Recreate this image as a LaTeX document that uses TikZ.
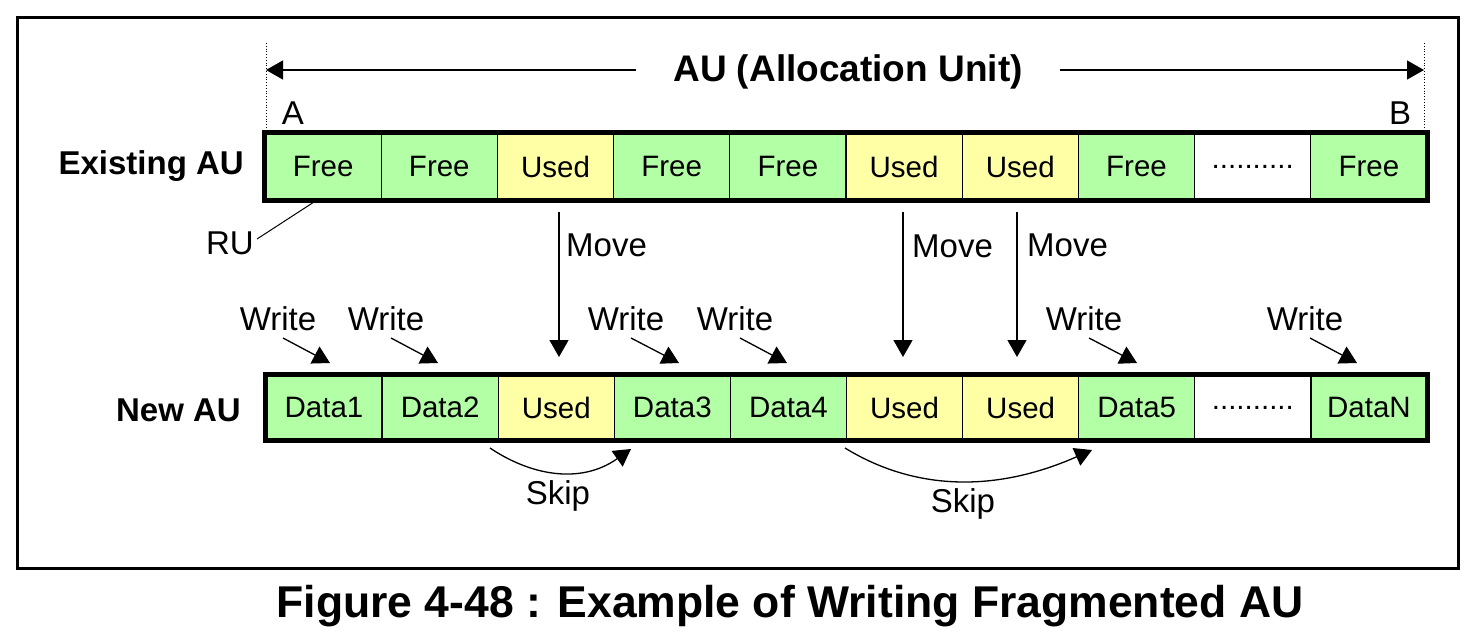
\documentclass[tikz,border=0pt]{standalone}
\usepackage{fontspec}
\setmainfont{Liberation Sans}
\usetikzlibrary{arrows.meta}
\definecolor{freegreen}{RGB}{178,255,166}
\definecolor{usedyellow}{RGB}{255,255,166}
\tikzset{
  cell/.style={draw=black, line width=1.3pt, minimum height=#1, inner sep=0pt,
    font=\fontsize{29.5}{34}\selectfont, anchor=center},
  cellA/.style={cell=67pt, minimum width=116.2pt},
  cellB/.style={cell=65pt, minimum width=116.1pt},
  gcell/.style={fill=freegreen},
  ycell/.style={fill=usedyellow},
  wcell/.style={fill=white},
  lbl/.style={font=\fontsize{33}{38}\selectfont, inner sep=0pt},
  rowlbl/.style={font=\bfseries\fontsize{33}{38}\selectfont, inner sep=0pt},
  tip/.style={-{Triangle[length=17pt,width=19pt]}, line width=1.3pt},
  thick row/.style={draw=black, line width=4.5pt},
}
\begin{document}
\begin{tikzpicture}[x=1pt,y=-1pt]
\useasboundingbox (0,0) rectangle (1473,637);
% frame
\node[draw=black, line width=2.5pt, minimum width=1441pt, minimum height=551pt, inner sep=0pt, anchor=north west] (frame) at (16,16) {};
% dimension line
\coordinate (A0) at (266,43);
\coordinate (A1) at (266,133);
\coordinate (B0) at (1424,43);
\coordinate (B1) at (1424,133);
\draw[dotted, line width=0.8pt] (A0) -- (A1);
\draw[dotted, line width=0.8pt] (B0) -- (B1);
\node[font=\bfseries\fontsize{37}{42}\selectfont, inner xsep=37pt, inner ysep=0pt] (au) at (848,72) {AU (Allocation Unit)};
\coordinate (dl) at (266,70);
\coordinate (dr) at (1424,70);
\draw[tip] (au.west |- dl) -- (dl);
\draw[tip] (au.east |- dr) -- (dr);
\node[lbl] (la) at (293,113) {A};
\node[lbl] (lb) at (1400,113) {B};
% existing AU row
\foreach \i/\t/\s in {1/Free/gcell,2/Free/gcell,3/Used/ycell,4/Free/gcell,5/Free/gcell,6/Used/ycell,7/Used/ycell,8/Free/gcell,9/{..........}/wcell,10/Free/gcell}{
  \node[cellA, \s] (e\i) at ({265+116.2*(\i-0.5)},166.5) {\t};
}
\draw[thick row] (e1.north west) rectangle (e10.south east);
% new AU row
\foreach \i/\t/\s in {1/Data1/gcell,2/Data2/gcell,3/Used/ycell,4/Data3/gcell,5/Data4/gcell,6/Used/ycell,7/Used/ycell,8/Data5/gcell,9/{..........}/wcell,10/DataN/gcell}{
  \node[cellB, \s] (n\i) at ({266+116.1*(\i-0.5)},407.5) {\t};
}
\draw[thick row] (n1.north west) rectangle (n10.south east);
% row labels
\node[rowlbl, anchor=east] (lex) at (244,166) {Existing AU};
\node[rowlbl, anchor=east] (lnew) at (241,410) {New AU};
% RU
\node[lbl] (ru) at (230,243) {RU};
\coordinate (ruend) at (314,202);
\draw[line width=1pt] (ru.east) ++(3,-4) -- (ruend);
% move arrows
\foreach \c/\x in {3/559,6/903,7/1017}{
  \coordinate (ms\c) at (\x,212);
  \coordinate (me\c) at (\x,357);
  \draw[tip] (ms\c) -- (me\c);
}
\node[lbl, anchor=west] (mv1) at (566,245) {Move};
\node[lbl, anchor=west] (mv2) at (912,246) {Move};
\node[lbl, anchor=west] (mv3) at (1027,245) {Move};
% write arrows
\foreach \k/\lx/\ex in {1/278/330,2/386/438,4/626/679,5/735/787,8/1084/1137,10/1305/1357}{
  \node[lbl] (w\k) at (\lx,319) {Write};
  \coordinate (we\k) at (\ex,363);
  \draw[tip] (\lx+5,338) -- (we\k);
}
% skips
\coordinate (s1a) at (490,448);
\coordinate (s1b) at (631,449);
\draw[tip] (s1a) .. controls (530,475) and (580,485) .. (s1b);
\node[lbl] (sk1) at (558,496) {Skip};
\coordinate (s2a) at (845,448);
\coordinate (s2b) at (1092,450);
\draw[tip] (s2a) .. controls (910,488) and (990,495) .. (s2b);
\node[lbl] (sk2) at (963,504) {Skip};
% caption
\node[font=\bfseries\fontsize{44.5}{50}\selectfont, inner sep=0pt] (cap) at (790,606) {Figure 4-48 : Example of Writing Fragmented AU};
\end{tikzpicture}
\end{document}
